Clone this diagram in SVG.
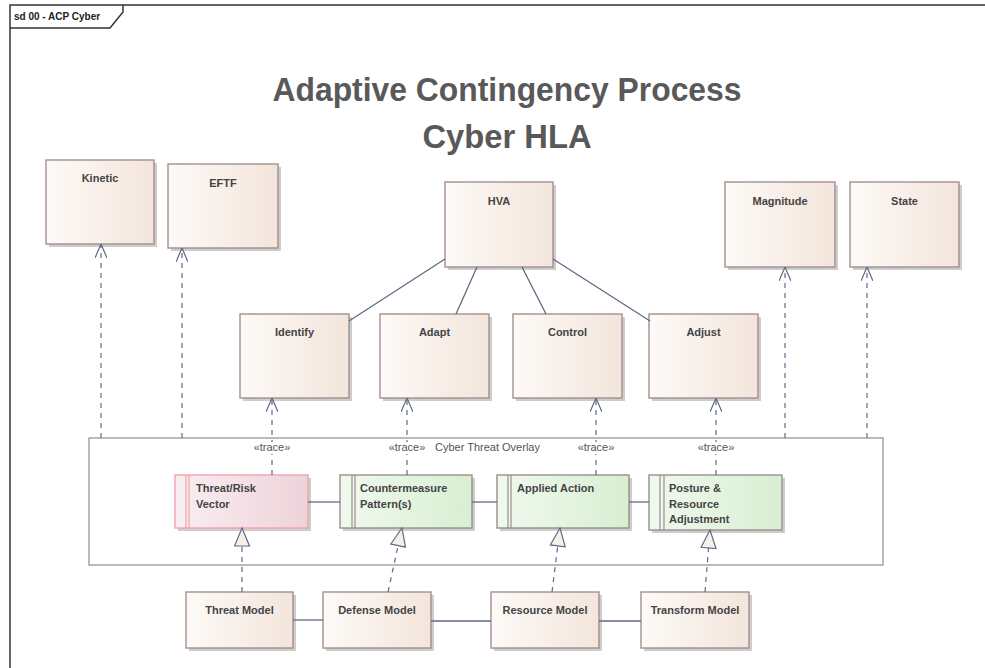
<svg xmlns="http://www.w3.org/2000/svg" width="985" height="668" viewBox="0 0 985 668">
  <defs>
    <linearGradient id="gBeige" x1="0" y1="0" x2="1" y2="0">
      <stop offset="0" stop-color="#fdfaf7"/>
      <stop offset="1" stop-color="#f3e5db"/>
    </linearGradient>
    <linearGradient id="gGreen" x1="0" y1="0" x2="1" y2="0">
      <stop offset="0" stop-color="#f0f9ee"/>
      <stop offset="1" stop-color="#d8efd2"/>
    </linearGradient>
    <linearGradient id="gRed" x1="0" y1="0" x2="1" y2="0">
      <stop offset="0" stop-color="#f9eef1"/>
      <stop offset="1" stop-color="#eed2da"/>
    </linearGradient>
    <!-- open arrowhead for trace / dependency -->
    <marker id="openArrow" markerUnits="userSpaceOnUse" viewBox="0 0 14 12" refX="14" refY="6" markerWidth="14" markerHeight="12" orient="auto">
      <path d="M0,0 L14,6 L0,12" fill="none" stroke="#5c6b86" stroke-width="1.2" stroke-dasharray="none"/>
    </marker>
    <!-- hollow triangle for realization -->
    <marker id="realize" markerUnits="userSpaceOnUse" viewBox="0 0 20 17" refX="19" refY="8.5" markerWidth="20" markerHeight="17" orient="auto">
      <path d="M1,1 L19,8.5 L1,16 Z" fill="#f8eeea" stroke="#5c6b86" stroke-width="1.2" stroke-dasharray="none"/>
    </marker>
  </defs>
  <style>
    .frame{fill:none;stroke:#333333;stroke-width:1.5}
    .shadow{fill:#cdcdcd}
    .box{fill:url(#gBeige);stroke:#a38f8f;stroke-width:1.4}
    .green{fill:url(#gGreen);stroke:#9c8e8e;stroke-width:1.4}
    .red{fill:url(#gRed);stroke:#f2a3ab;stroke-width:1.4}
    .stripe{stroke:#9c8e8e;stroke-width:1.2}
    .stripeRed{stroke:#f2a3ab;stroke-width:1.2}
    .overlay{fill:#ffffff;stroke:#a39393;stroke-width:1.3}
    .lbl{font-family:"Liberation Sans",Arial,sans-serif;font-size:11px;font-weight:bold;fill:#444444}
    .small{font-family:"Liberation Sans",Arial,sans-serif;font-size:11px;fill:#555555}
    .title{font-family:"Liberation Sans",Arial,sans-serif;font-size:33px;font-weight:bold;fill:#595959}
    .tab{font-family:"Liberation Sans",Arial,sans-serif;font-size:10px;font-weight:bold;fill:#222222}
    .solid{fill:none;stroke:#5c6b86;stroke-width:1.3}
    .dash{fill:none;stroke:#5c6b86;stroke-width:1.2;stroke-dasharray:5,5}
  </style>

  <rect width="985" height="668" fill="#ffffff"/>

  <!-- diagram frame -->
  <g id="frame">
    <rect class="frame" x="10" y="5" width="990" height="700"/>
    <path class="frame" d="M123,5 V12 L110,28 H10"/>
    <text class="tab" x="14" y="20">sd 00 - ACP Cyber</text>
  </g>

  <!-- heading -->
  <g id="heading">
    <text class="title" x="507" y="101" text-anchor="middle" textLength="469" lengthAdjust="spacingAndGlyphs">Adaptive Contingency Process</text>
    <text class="title" x="507" y="148" text-anchor="middle" textLength="169" lengthAdjust="spacingAndGlyphs">Cyber HLA</text>
  </g>

  <!-- boundary -->
  <g id="cyber-threat-overlay">
    <rect class="overlay" x="89" y="438" width="794" height="127"/>
    <text class="small" x="435" y="451">Cyber Threat Overlay</text>
  </g>

  <!-- upper nodes -->
  <g id="kinetic">
    <rect class="shadow" x="49" y="163" width="108" height="84"/>
    <rect class="box" x="46" y="160" width="108" height="84"/>
    <text class="lbl" x="100" y="182" text-anchor="middle">Kinetic</text>
  </g>
  <g id="eftf">
    <rect class="shadow" x="171" y="167" width="110" height="84"/>
    <rect class="box" x="168" y="164" width="110" height="84"/>
    <text class="lbl" x="223" y="187" text-anchor="middle">EFTF</text>
  </g>
  <g id="hva">
    <rect class="shadow" x="448" y="185" width="108" height="85"/>
    <rect class="box" x="445" y="182" width="108" height="85"/>
    <text class="lbl" x="499" y="205" text-anchor="middle">HVA</text>
  </g>
  <g id="magnitude">
    <rect class="shadow" x="728" y="185" width="110" height="85"/>
    <rect class="box" x="725" y="182" width="110" height="85"/>
    <text class="lbl" x="780" y="205" text-anchor="middle">Magnitude</text>
  </g>
  <g id="state">
    <rect class="shadow" x="853" y="185" width="109" height="85"/>
    <rect class="box" x="850" y="182" width="109" height="85"/>
    <text class="lbl" x="904.5" y="205" text-anchor="middle">State</text>
  </g>
  <g id="identify">
    <rect class="shadow" x="243" y="317" width="109" height="84"/>
    <rect class="box" x="240" y="314" width="109" height="84"/>
    <text class="lbl" x="294.5" y="336" text-anchor="middle">Identify</text>
  </g>
  <g id="adapt">
    <rect class="shadow" x="383" y="317" width="109" height="84"/>
    <rect class="box" x="380" y="314" width="109" height="84"/>
    <text class="lbl" x="434.5" y="336" text-anchor="middle">Adapt</text>
  </g>
  <g id="control">
    <rect class="shadow" x="516" y="317" width="109" height="84"/>
    <rect class="box" x="513" y="314" width="109" height="84"/>
    <text class="lbl" x="567.5" y="336" text-anchor="middle">Control</text>
  </g>
  <g id="adjust">
    <rect class="shadow" x="652" y="317" width="109" height="84"/>
    <rect class="box" x="649" y="314" width="109" height="84"/>
    <text class="lbl" x="703.5" y="336" text-anchor="middle">Adjust</text>
  </g>

  <!-- overlay elements -->
  <g id="threat-risk-vector">
    <rect class="shadow" x="178" y="478" width="133" height="53"/>
    <rect class="red" x="175" y="475" width="133" height="53"/>
    <line class="stripeRed" x1="186" y1="475" x2="186" y2="528"/>
    <line class="stripeRed" x1="189" y1="475" x2="189" y2="528"/>
    <text class="lbl" x="196" y="492">Threat/Risk</text>
    <text class="lbl" x="196" y="508">Vector</text>
  </g>
  <g id="countermeasure-patterns">
    <rect class="shadow" x="343" y="478" width="132" height="53"/>
    <rect class="green" x="340" y="475" width="132" height="53"/>
    <line class="stripe" x1="352" y1="475" x2="352" y2="528"/>
    <line class="stripe" x1="355" y1="475" x2="355" y2="528"/>
    <text class="lbl" x="360" y="492">Countermeasure</text>
    <text class="lbl" x="360" y="508">Pattern(s)</text>
  </g>
  <g id="applied-action">
    <rect class="shadow" x="500" y="478" width="132" height="53"/>
    <rect class="green" x="497" y="475" width="132" height="53"/>
    <line class="stripe" x1="508" y1="475" x2="508" y2="528"/>
    <line class="stripe" x1="511" y1="475" x2="511" y2="528"/>
    <text class="lbl" x="517" y="492">Applied Action</text>
  </g>
  <g id="posture-resource-adjustment">
    <rect class="shadow" x="652" y="478" width="133" height="55"/>
    <rect class="green" x="649" y="475" width="133" height="55"/>
    <line class="stripe" x1="660" y1="475" x2="660" y2="530"/>
    <line class="stripe" x1="664" y1="475" x2="664" y2="530"/>
    <text class="lbl" x="669" y="492">Posture &amp;</text>
    <text class="lbl" x="669" y="508">Resource</text>
    <text class="lbl" x="669" y="523">Adjustment</text>
  </g>

  <!-- lower nodes -->
  <g id="threat-model">
    <rect class="shadow" x="189" y="595" width="107" height="56"/>
    <rect class="box" x="186" y="592" width="107" height="56"/>
    <text class="lbl" x="239.5" y="614" text-anchor="middle">Threat Model</text>
  </g>
  <g id="defense-model">
    <rect class="shadow" x="326" y="595" width="108" height="56"/>
    <rect class="box" x="323" y="592" width="108" height="56"/>
    <text class="lbl" x="377" y="614" text-anchor="middle">Defense Model</text>
  </g>
  <g id="resource-model">
    <rect class="shadow" x="494" y="595" width="108" height="56"/>
    <rect class="box" x="491" y="592" width="108" height="56"/>
    <text class="lbl" x="545" y="614" text-anchor="middle">Resource Model</text>
  </g>
  <g id="transform-model">
    <rect class="shadow" x="644" y="595" width="108" height="56"/>
    <rect class="box" x="641" y="592" width="108" height="56"/>
    <text class="lbl" x="695" y="614" text-anchor="middle">Transform Model</text>
  </g>

  <!-- connectors -->
  <g id="connectors">
    <!-- HVA associations -->
    <path class="solid" d="M445,259 L349,321"/>
    <path class="solid" d="M477,267 L456,314"/>
    <path class="solid" d="M522,267 L546,314"/>
    <path class="solid" d="M553,259 L650,321"/>
    <!-- overlay element chain -->
    <path class="solid" d="M308,502 H340"/>
    <path class="solid" d="M472,502 H497"/>
    <path class="solid" d="M629,502 H649"/>
    <!-- model chain -->
    <path class="solid" d="M293,620 H323"/>
    <path class="solid" d="M431,621 H491"/>
    <path class="solid" d="M599,621 H641"/>
    <!-- overlay dependencies -->
    <path class="dash" d="M101,438 V244" marker-end="url(#openArrow)"/>
    <path class="dash" d="M182,438 V248" marker-end="url(#openArrow)"/>
    <path class="dash" d="M785,438 V267" marker-end="url(#openArrow)"/>
    <path class="dash" d="M867,438 V267" marker-end="url(#openArrow)"/>
    <!-- traces -->
    <path class="dash" d="M272,475 V398" marker-end="url(#openArrow)"/>
    <path class="dash" d="M407,475 V398" marker-end="url(#openArrow)"/>
    <path class="dash" d="M596,475 V398" marker-end="url(#openArrow)"/>
    <path class="dash" d="M716,475 V398" marker-end="url(#openArrow)"/>
    <!-- realizations -->
    <path class="dash" d="M242,592 L242,528" marker-end="url(#realize)"/>
    <path class="dash" d="M388,592 L402,528" marker-end="url(#realize)"/>
    <path class="dash" d="M552,592 L560,528" marker-end="url(#realize)"/>
    <path class="dash" d="M705,592 L710,530" marker-end="url(#realize)"/>
  </g>

  <!-- trace labels -->
  <g id="trace-labels">
    <rect x="254" y="442" width="36" height="12" fill="#ffffff"/>
    <text class="small" x="272" y="451" text-anchor="middle">«trace»</text>
    <rect x="389" y="442" width="36" height="12" fill="#ffffff"/>
    <text class="small" x="407" y="451" text-anchor="middle">«trace»</text>
    <rect x="578" y="442" width="36" height="12" fill="#ffffff"/>
    <text class="small" x="596" y="451" text-anchor="middle">«trace»</text>
    <rect x="698" y="442" width="36" height="12" fill="#ffffff"/>
    <text class="small" x="716" y="451" text-anchor="middle">«trace»</text>
  </g>
</svg>
